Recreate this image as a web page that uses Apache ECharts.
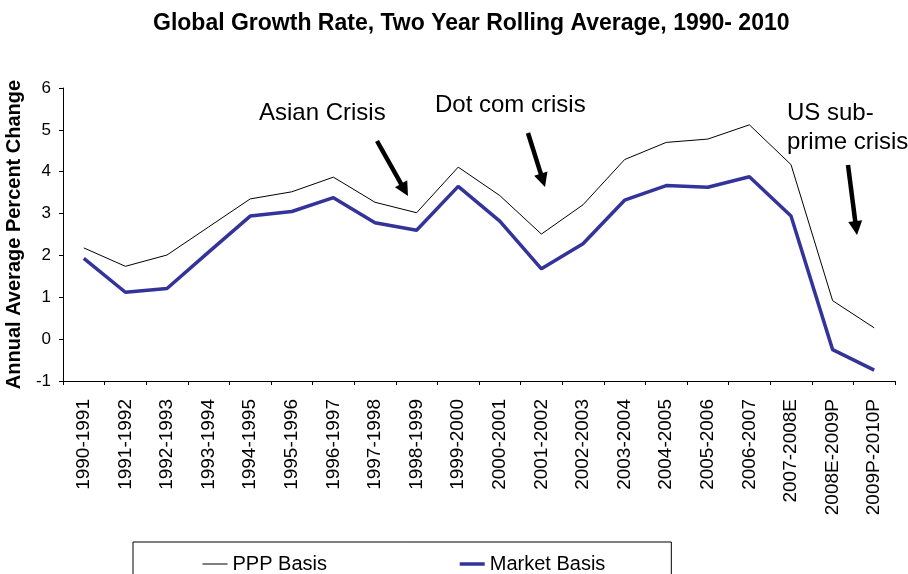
<!DOCTYPE html>
<html>
<head>
<meta charset="utf-8">
<script src="https://cdn.jsdelivr.net/npm/echarts@6/dist/echarts.min.js"></script>
<style>
html,body{margin:0;padding:0;background:#fff;}
#chart{width:908px;height:574px;}
</style>
</head>
<body>
<div id="chart"></div>
<script>
var categories = ['1990-1991','1991-1992','1992-1993','1993-1994','1994-1995','1995-1996','1996-1997','1997-1998','1998-1999','1999-2000','2000-2001','2001-2002','2002-2003','2003-2004','2004-2005','2005-2006','2006-2007','2007-2008E','2008E-2009P','2009P-2010P'];
var pppBasis = [2.18, 1.74, 2.01, 2.68, 3.35, 3.52, 3.87, 3.27, 3.02, 4.11, 3.43, 2.51, 3.21, 4.29, 4.70, 4.78, 5.12, 4.17, 0.92, 0.27];
var marketBasis = [1.93, 1.12, 1.21, 2.08, 2.94, 3.05, 3.38, 2.78, 2.60, 3.65, 2.82, 1.68, 2.28, 3.32, 3.67, 3.63, 3.88, 2.94, -0.25, -0.74];
var yTicks = [-1, 0, 1, 2, 3, 4, 5, 6];
var seriesNames = ['PPP Basis', 'Market Basis'];
var titleText = 'Global Growth Rate, Two Year Rolling Average, 1990- 2010';
var yAxisTitle = 'Annual Average Percent Change';
var annotations = [
  {text: 'Asian Crisis', x: 259, y: 113},
  {text: 'Dot com crisis', x: 435, y: 105},
  {text: 'US sub-', x: 787, y: 113},
  {text: 'prime crisis', x: 787, y: 142}
];
var arrows = [
  [377, 141, 408, 196],
  [528, 133, 545, 187],
  [848, 165, 857, 235]
];

var FONT = 'Liberation Sans, Arial, sans-serif';
var chart = echarts.init(document.getElementById('chart'), null, {renderer: 'canvas'});

function arrowGraphic(a) {
  var x1 = a[0], y1 = a[1], x2 = a[2], y2 = a[3];
  var dx = x2 - x1, dy = y2 - y1, len = Math.sqrt(dx*dx + dy*dy);
  var ux = dx/len, uy = dy/len;
  var headLen = 14, headW = 7;
  var bx = x2 - ux*headLen, by = y2 - uy*headLen;
  var px = -uy, py = ux;
  return [
    {type: 'line', silent: true, shape: {x1: x1, y1: y1, x2: bx + ux*2, y2: by + uy*2}, style: {stroke: '#000', lineWidth: 4.5}},
    {type: 'polygon', silent: true, shape: {points: [[x2, y2], [bx + px*headW, by + py*headW], [bx - px*headW, by - py*headW]]}, style: {fill: '#000'}}
  ];
}

var graphics = [];
annotations.forEach(function (a) {
  graphics.push({type: 'text', silent: true, left: a.x, top: a.y - 12, style: {text: a.text, font: '24px ' + FONT, fill: '#000'}});
});
arrows.forEach(function (a) { graphics = graphics.concat(arrowGraphic(a)); });

var option = {
  backgroundColor: '#fff',
  animation: false,
  title: {
    text: titleText,
    left: 148,
    top: 7,
    textStyle: {fontFamily: FONT, fontSize: 23, fontWeight: 'bold', color: '#000'}
  },
  legend: {
    data: [
      {name: seriesNames[0], lineStyle: {width: 1, color: '#000'}},
      {name: seriesNames[1], lineStyle: {width: 3.5, color: '#333399'}}
    ],
    left: 133,
    top: 542,
    orient: 'horizontal',
    itemWidth: 25,
    itemHeight: 14,
    itemGap: 131,
    padding: [12, 66, 12, 69],
    borderColor: '#000',
    borderWidth: 1,
    itemStyle: {opacity: 0},
    textStyle: {fontFamily: FONT, fontSize: 20, color: '#000'}
  },
  grid: {left: 63, right: 13, top: 88, bottom: 193, containLabel: false, outerBoundsMode: 'none'},
  xAxis: {
    type: 'category',
    data: categories,
    boundaryGap: true,
    axisLine: {onZero: false, lineStyle: {color: '#000', width: 1}},
    axisTick: {show: true, alignWithLabel: false, length: 4, inside: false, lineStyle: {color: '#000'}},
    axisLabel: {rotate: 90, interval: 0, margin: 18, fontFamily: FONT, fontSize: 19, color: '#000'},
    splitLine: {show: false}
  },
  yAxis: {
    type: 'value',
    min: yTicks[0],
    max: yTicks[yTicks.length - 1],
    interval: 1,
    name: yAxisTitle,
    nameLocation: 'middle',
    nameGap: 31,
    nameTextStyle: {fontFamily: FONT, fontSize: 20, fontWeight: 'bold', color: '#000'},
    axisLine: {show: true, lineStyle: {color: '#000', width: 1}},
    axisTick: {show: true, length: 4, lineStyle: {color: '#000'}},
    axisLabel: {margin: 12, fontFamily: FONT, fontSize: 17, color: '#000'},
    splitLine: {show: false}
  },
  series: [
    {
      name: seriesNames[0],
      type: 'line',
      data: pppBasis,
      symbol: 'none',
      lineStyle: {color: '#000', width: 1},
      itemStyle: {color: '#000'}
    },
    {
      name: seriesNames[1],
      type: 'line',
      data: marketBasis,
      symbol: 'none',
      lineStyle: {color: '#333399', width: 3.5},
      itemStyle: {color: '#333399'}
    }
  ],
  graphic: graphics
};
chart.setOption(option);
</script>
</body>
</html>
